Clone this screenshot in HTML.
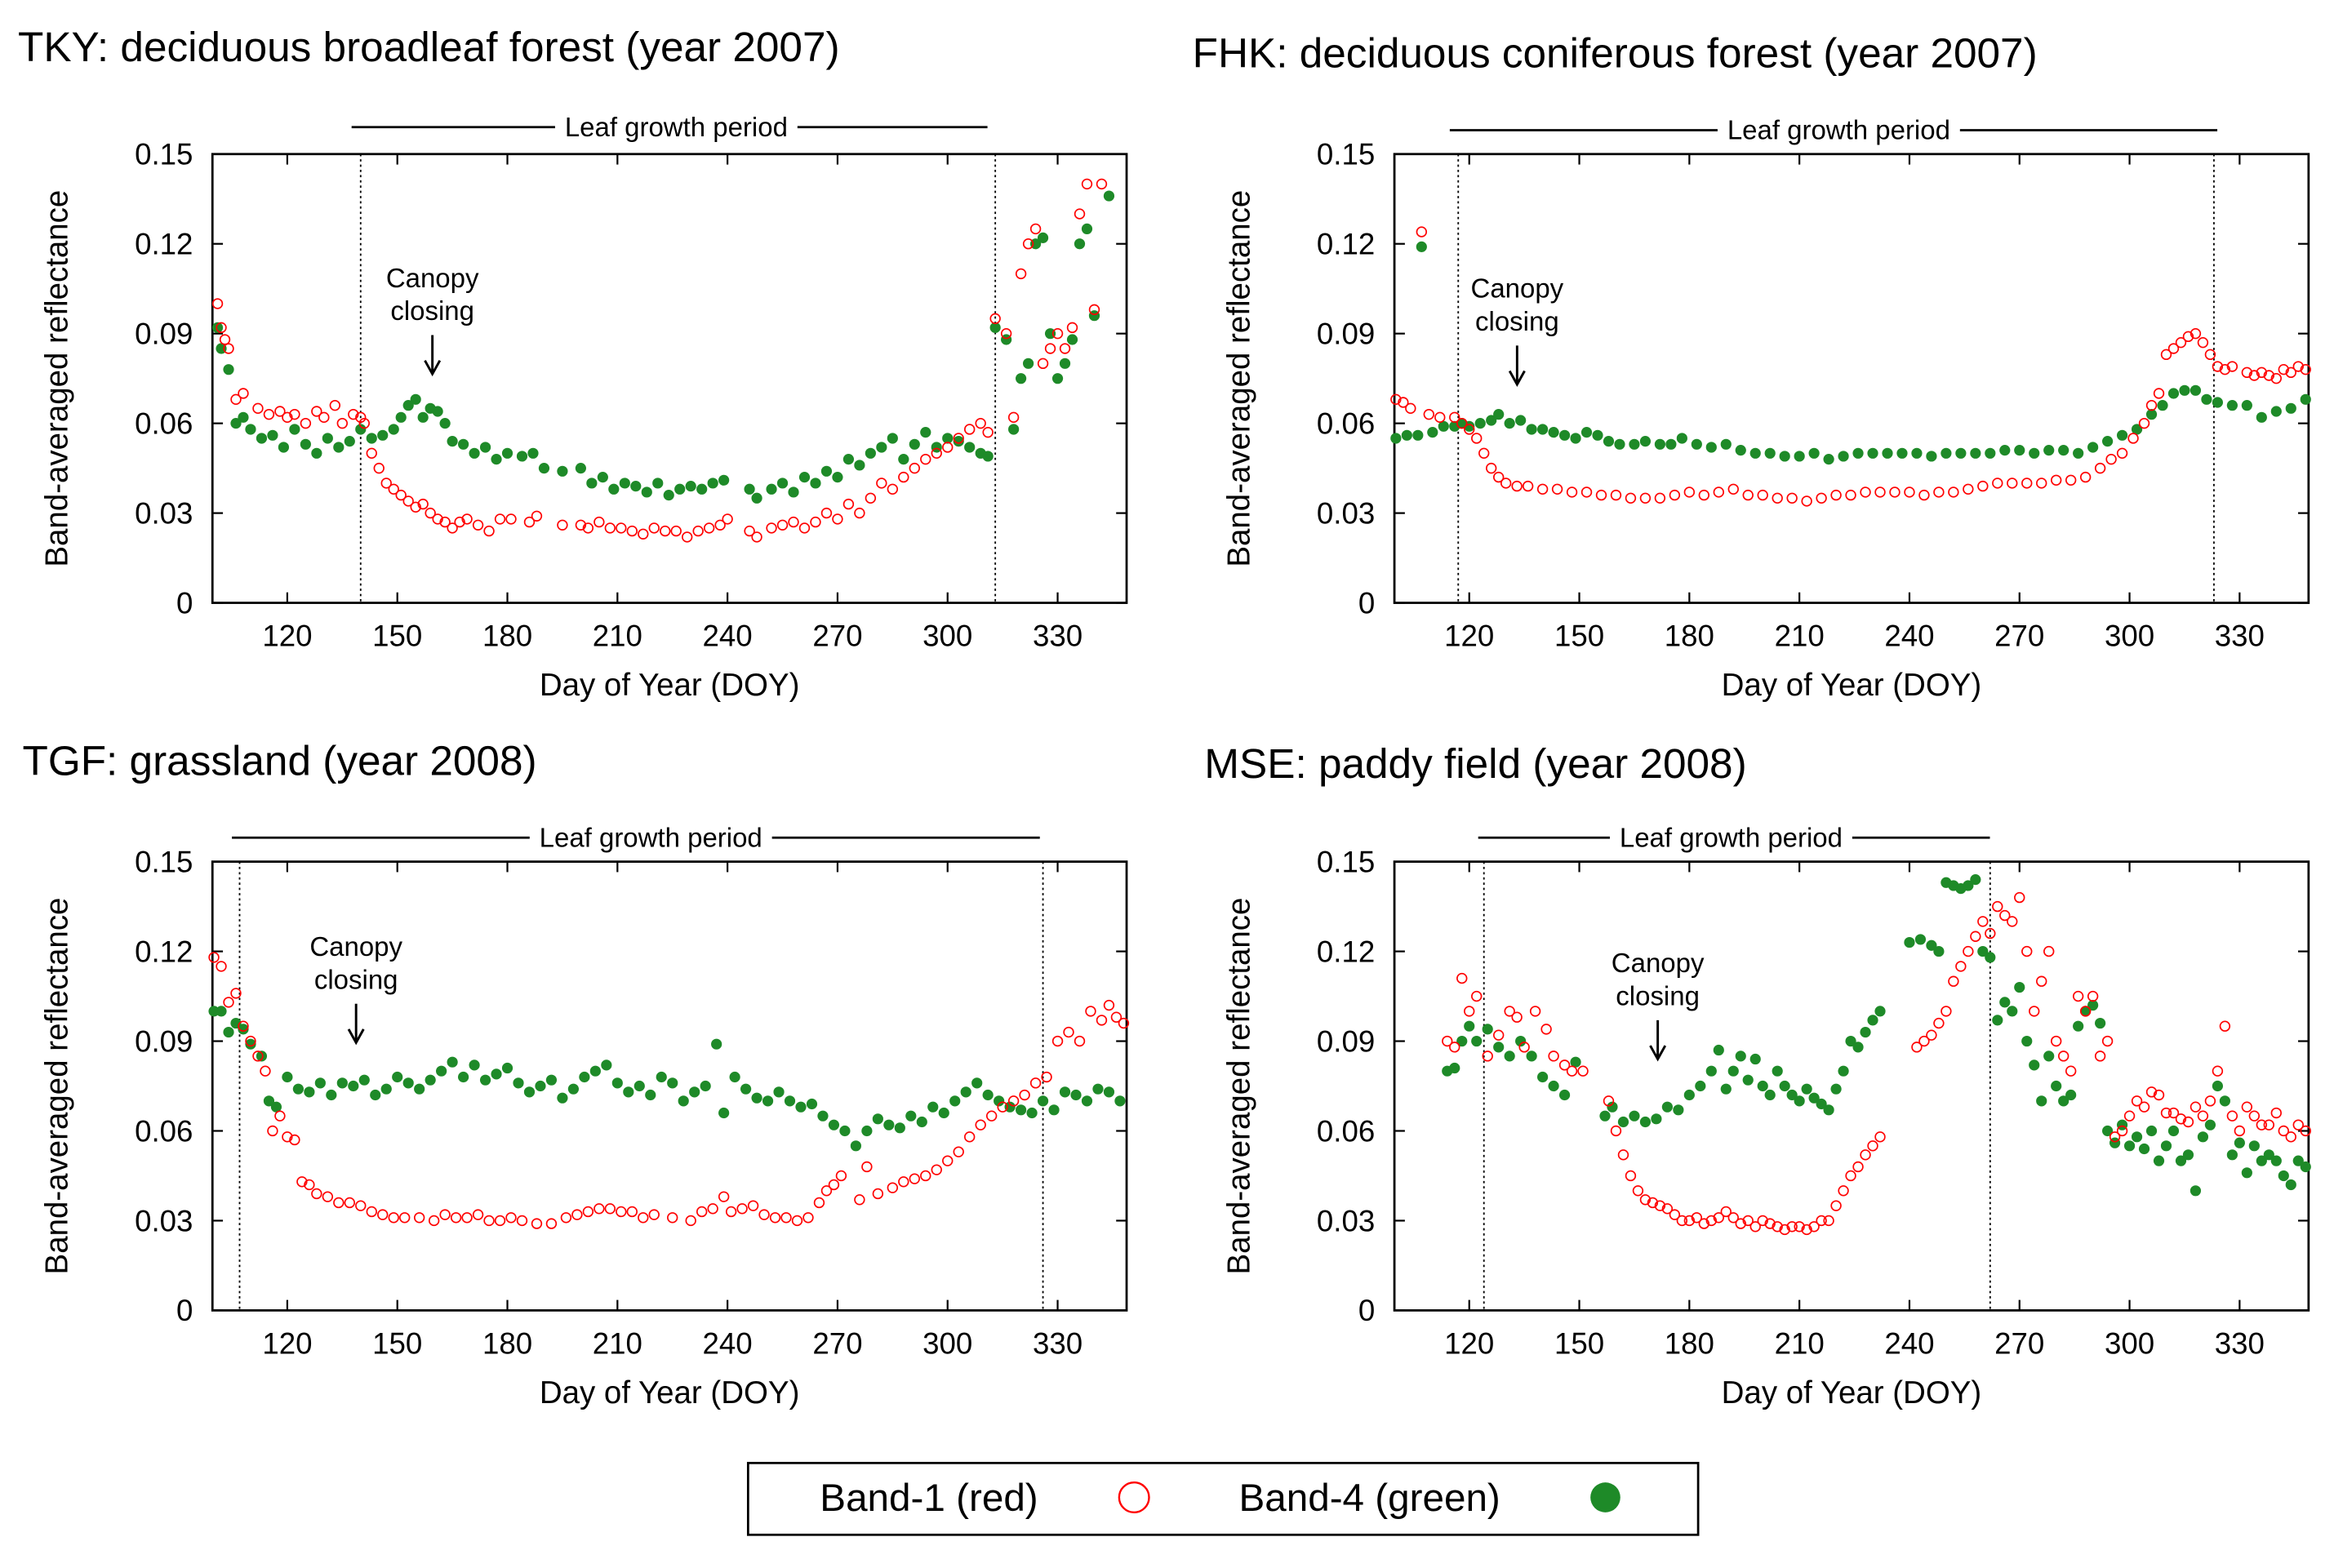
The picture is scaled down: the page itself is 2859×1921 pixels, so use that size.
<!DOCTYPE html>
<html><head><meta charset="utf-8"><style>
html,body{margin:0;padding:0;background:#fff;}
svg{display:block;font-family:"Liberation Sans",Arial,sans-serif;}
</style></head><body>
<svg id="fig" width="2859" height="1921" viewBox="0 0 1560 1048.2" preserveAspectRatio="none" xmlns="http://www.w3.org/2000/svg">
<g id="root"></g>
<g>
<rect x="500" y="978" width="635" height="48" fill="#fff" stroke="#000" stroke-width="1.5"/>
<text x="548" y="1010" font-size="26">Band-1 (red)</text>
<circle cx="758" cy="1001" r="10" fill="none" stroke="#f00" stroke-width="1.3"/>
<text x="828" y="1010" font-size="26">Band-4 (green)</text>
<circle cx="1073" cy="1001" r="10" fill="#1e8a28"/>
</g>
</svg>
<script>
// TKY
const tkyRedDoy=[101,102,103,104,106,108,112,115,118,120,122,125,128,130,133,135,138,140,141,143,145,147,149,151,153,155,157,159,161,163,165,167,169,172,175,178,181,186,188,195,200,202,205,208,211,214,217,220,223,226,229,232,235,238,240,246,248,252,255,258,261,264,267,270,273,276,279,282,285,288,291,294,297,300,303,306,309,311,313,316,318,320,322,324,326,328,330,332,334,336,338,340,342];
const tkyRedVal=[0.1,0.092,0.088,0.085,0.068,0.07,0.065,0.063,0.064,0.062,0.063,0.06,0.064,0.062,0.066,0.06,0.063,0.062,0.06,0.05,0.045,0.04,0.038,0.036,0.034,0.032,0.033,0.03,0.028,0.027,0.025,0.027,0.028,0.026,0.024,0.028,0.028,0.027,0.029,0.026,0.026,0.025,0.027,0.025,0.025,0.024,0.023,0.025,0.024,0.024,0.022,0.024,0.025,0.026,0.028,0.024,0.022,0.025,0.026,0.027,0.025,0.027,0.03,0.028,0.033,0.03,0.035,0.04,0.038,0.042,0.045,0.048,0.05,0.052,0.055,0.058,0.06,0.057,0.095,0.09,0.062,0.11,0.12,0.125,0.08,0.085,0.09,0.085,0.092,0.13,0.14,0.098,0.14];
const tkyGrnDoy=[101,102,104,106,108,110,113,116,119,122,125,128,131,134,137,140,143,146,149,151,153,155,157,159,161,163,165,168,171,174,177,180,184,187,190,195,200,203,206,209,212,215,218,221,224,227,230,233,236,239,246,248,252,255,258,261,264,267,270,273,276,279,282,285,288,291,294,297,300,303,306,309,311,313,316,318,320,322,324,326,328,330,332,334,336,338,340,344];
const tkyGrnVal=[0.092,0.085,0.078,0.06,0.062,0.058,0.055,0.056,0.052,0.058,0.053,0.05,0.055,0.052,0.054,0.058,0.055,0.056,0.058,0.062,0.066,0.068,0.062,0.065,0.064,0.06,0.054,0.053,0.05,0.052,0.048,0.05,0.049,0.05,0.045,0.044,0.045,0.04,0.042,0.038,0.04,0.039,0.037,0.04,0.036,0.038,0.039,0.038,0.04,0.041,0.038,0.035,0.038,0.04,0.037,0.042,0.04,0.044,0.042,0.048,0.046,0.05,0.052,0.055,0.048,0.053,0.057,0.052,0.055,0.054,0.052,0.05,0.049,0.092,0.088,0.058,0.075,0.08,0.12,0.122,0.09,0.075,0.08,0.088,0.12,0.125,0.096,0.136];
// FHK
const fhkRedDoy=[100,102,104,107,109,112,116,118,120,122,124,126,128,130,133,136,140,144,148,152,156,160,164,168,172,176,180,184,188,192,196,200,204,208,212,216,220,224,228,232,236,240,244,248,252,256,260,264,268,272,276,280,284,288,292,295,298,301,304,306,308,310,312,314,316,318,320,322,324,326,328,332,334,336,338,340,342,344,346,348];
const fhkRedVal=[0.068,0.067,0.065,0.124,0.063,0.062,0.062,0.06,0.058,0.055,0.05,0.045,0.042,0.04,0.039,0.039,0.038,0.038,0.037,0.037,0.036,0.036,0.035,0.035,0.035,0.036,0.037,0.036,0.037,0.038,0.036,0.036,0.035,0.035,0.034,0.035,0.036,0.036,0.037,0.037,0.037,0.037,0.036,0.037,0.037,0.038,0.039,0.04,0.04,0.04,0.04,0.041,0.041,0.042,0.045,0.048,0.05,0.055,0.06,0.066,0.07,0.083,0.085,0.087,0.089,0.09,0.087,0.083,0.079,0.078,0.079,0.077,0.076,0.077,0.076,0.075,0.078,0.077,0.079,0.078];
const fhkGrnDoy=[100,103,106,107,110,113,116,118,120,123,126,128,131,134,137,140,143,146,149,152,155,158,161,165,168,172,175,178,182,186,190,194,198,202,206,210,214,218,222,226,230,234,238,242,246,250,254,258,262,266,270,274,278,282,286,290,294,298,302,306,309,312,315,318,321,324,328,332,336,340,344,348];
const fhkGrnVal=[0.055,0.056,0.056,0.119,0.057,0.059,0.059,0.06,0.059,0.06,0.061,0.063,0.06,0.061,0.058,0.058,0.057,0.056,0.055,0.057,0.056,0.054,0.053,0.053,0.054,0.053,0.053,0.055,0.053,0.052,0.053,0.051,0.05,0.05,0.049,0.049,0.05,0.048,0.049,0.05,0.05,0.05,0.05,0.05,0.049,0.05,0.05,0.05,0.05,0.051,0.051,0.05,0.051,0.051,0.05,0.052,0.054,0.056,0.058,0.063,0.066,0.07,0.071,0.071,0.068,0.067,0.066,0.066,0.062,0.064,0.065,0.068];
// TGF
const tgfRedDoy=[100,102,104,106,108,110,112,114,116,118,120,122,124,126,128,131,134,137,140,143,146,149,152,156,160,163,166,169,172,175,178,181,184,188,192,196,199,202,205,208,211,214,217,220,225,230,233,236,239,241,244,247,250,253,256,259,262,265,267,269,271,276,278,281,285,288,291,294,297,300,303,306,309,312,315,318,321,324,327,330,333,336,339,342,344,346,348];
const tgfRedVal=[0.118,0.115,0.103,0.106,0.095,0.09,0.085,0.08,0.06,0.065,0.058,0.057,0.043,0.042,0.039,0.038,0.036,0.036,0.035,0.033,0.032,0.031,0.031,0.031,0.03,0.032,0.031,0.031,0.032,0.03,0.03,0.031,0.03,0.029,0.029,0.031,0.032,0.033,0.034,0.034,0.033,0.033,0.031,0.032,0.031,0.03,0.033,0.034,0.038,0.033,0.034,0.035,0.032,0.031,0.031,0.03,0.031,0.036,0.04,0.042,0.045,0.037,0.048,0.039,0.041,0.043,0.044,0.045,0.047,0.05,0.053,0.058,0.062,0.065,0.068,0.07,0.072,0.076,0.078,0.09,0.093,0.09,0.1,0.097,0.102,0.098,0.096];
const tgfGrnDoy=[100,102,104,106,108,110,113,115,117,120,123,126,129,132,135,138,141,144,147,150,153,156,159,162,165,168,171,174,177,180,183,186,189,192,195,198,201,204,207,210,213,216,219,222,225,228,231,234,237,239,242,245,248,251,254,257,260,263,266,269,272,275,278,281,284,287,290,293,296,299,302,305,308,311,314,317,320,323,326,329,332,335,338,341,344,347];
const tgfGrnVal=[0.1,0.1,0.093,0.096,0.094,0.089,0.085,0.07,0.068,0.078,0.074,0.073,0.076,0.072,0.076,0.075,0.077,0.072,0.074,0.078,0.076,0.074,0.077,0.08,0.083,0.078,0.082,0.077,0.079,0.081,0.076,0.073,0.075,0.077,0.071,0.074,0.078,0.08,0.082,0.076,0.073,0.075,0.072,0.078,0.076,0.07,0.073,0.075,0.089,0.066,0.078,0.074,0.071,0.07,0.073,0.07,0.068,0.069,0.065,0.062,0.06,0.055,0.06,0.064,0.062,0.061,0.065,0.063,0.068,0.066,0.07,0.073,0.076,0.072,0.07,0.068,0.067,0.066,0.07,0.067,0.073,0.072,0.07,0.074,0.073,0.07];
// MSE
const mseRedDoy=[114,116,118,120,122,125,128,131,133,135,138,141,143,146,148,151,158,160,162,164,166,168,170,172,174,176,178,180,182,184,186,188,190,192,194,196,198,200,202,204,206,208,210,212,214,216,218,220,222,224,226,228,230,232,242,244,246,248,250,252,254,256,258,260,262,264,266,268,270,272,274,276,278,280,282,284,286,288,290,292,294,296,298,300,302,304,306,308,310,312,314,316,318,320,322,324,326,328,330,332,334,336,338,340,342,344,346,348];
const mseRedVal=[0.09,0.088,0.111,0.1,0.105,0.085,0.092,0.1,0.098,0.088,0.1,0.094,0.085,0.082,0.08,0.08,0.07,0.06,0.052,0.045,0.04,0.037,0.036,0.035,0.034,0.032,0.03,0.03,0.031,0.029,0.03,0.031,0.033,0.031,0.029,0.03,0.028,0.03,0.029,0.028,0.027,0.028,0.028,0.027,0.028,0.03,0.03,0.035,0.04,0.045,0.048,0.052,0.055,0.058,0.088,0.09,0.092,0.096,0.1,0.11,0.115,0.12,0.125,0.13,0.126,0.135,0.132,0.13,0.138,0.12,0.1,0.11,0.12,0.09,0.085,0.08,0.105,0.1,0.105,0.085,0.09,0.058,0.06,0.065,0.07,0.068,0.073,0.072,0.066,0.066,0.064,0.063,0.068,0.065,0.07,0.08,0.095,0.065,0.06,0.068,0.065,0.062,0.062,0.066,0.06,0.058,0.062,0.06];
const mseGrnDoy=[114,116,118,120,122,125,128,131,134,137,140,143,146,149,157,159,162,165,168,171,174,177,180,183,186,188,190,192,194,196,198,200,202,204,206,208,210,212,214,216,218,220,222,224,226,228,230,232,240,243,246,248,250,252,254,256,258,260,262,264,266,268,270,272,274,276,278,280,282,284,286,288,290,292,294,296,298,300,302,304,306,308,310,312,314,316,318,320,322,324,326,328,330,332,334,336,338,340,342,344,346,348];
const mseGrnVal=[0.08,0.081,0.09,0.095,0.09,0.094,0.088,0.085,0.09,0.085,0.078,0.075,0.072,0.083,0.065,0.068,0.063,0.065,0.063,0.064,0.068,0.067,0.072,0.075,0.08,0.087,0.074,0.08,0.085,0.077,0.084,0.075,0.072,0.08,0.075,0.072,0.07,0.074,0.071,0.069,0.067,0.074,0.08,0.09,0.088,0.093,0.097,0.1,0.123,0.124,0.122,0.12,0.143,0.142,0.141,0.142,0.144,0.12,0.118,0.097,0.103,0.1,0.108,0.09,0.082,0.07,0.085,0.075,0.07,0.072,0.095,0.1,0.102,0.096,0.06,0.056,0.062,0.055,0.058,0.054,0.06,0.05,0.055,0.06,0.05,0.052,0.04,0.058,0.062,0.075,0.07,0.052,0.056,0.046,0.055,0.05,0.052,0.05,0.045,0.042,0.05,0.048];
const yTicks=[0,0.03,0.06,0.09,0.12,0.15];
const yTickLabels=["0","0.03","0.06","0.09","0.12","0.15"];
const xTicks=[120,150,180,210,240,270,300,330];

const NS="http://www.w3.org/2000/svg";
const root=document.getElementById('root');
function mk(tag,attrs,parent,text){const e=document.createElementNS(NS,tag);for(const k in attrs)e.setAttribute(k,attrs[k]);if(text!==undefined)e.textContent=text;parent.appendChild(e);return e;}

const panels=[
 {id:'tky',title:'TKY: deciduous broadleaf forest (year 2007)',tx:12,ty:41,x0:142,y0:103,rd:tkyRedDoy,rv:tkyRedVal,gd:tkyGrnDoy,gv:tkyGrnVal,v1:140,v2:313,lg1:235,lg2:660,lgy:85,lgt:452,cx:289,cy:186},
 {id:'fhk',title:'FHK: deciduous coniferous forest (year 2007)',tx:797,ty:45,x0:932,y0:103,rd:fhkRedDoy,rv:fhkRedVal,gd:fhkGrnDoy,gv:fhkGrnVal,v1:117,v2:323,lg1:969,lg2:1482,lgy:87,lgt:1229,cx:1014,cy:193},
 {id:'tgf',title:'TGF: grassland (year 2008)',tx:15,ty:518,x0:142,y0:576,rd:tgfRedDoy,rv:tgfRedVal,gd:tgfGrnDoy,gv:tgfGrnVal,v1:107,v2:326,lg1:155,lg2:695,lgy:560,lgt:435,cx:238,cy:633},
 {id:'mse',title:'MSE: paddy field (year 2008)',tx:805,ty:520,x0:932,y0:576,rd:mseRedDoy,rv:mseRedVal,gd:mseGrnDoy,gv:mseGrnVal,v1:124,v2:262,lg1:988,lg2:1330,lgy:560,lgt:1157,cx:1108,cy:644}
];
const W=611,H=300,D0=99.6,D1=348.8;
panels.forEach(p=>{
 const g=mk('g',{},root);
 
 
 const sx=d=>p.x0+(d-D0)/(D1-D0)*W;
 const sy=v=>p.y0+H-v/0.15*H;
 const t=mk('text',{x:p.tx,y:p.ty,'font-size':28},g,p.title);
 
 
 const lt=mk('text',{x:p.lgt,y:p.lgy+6,'font-size':18,'text-anchor':'middle'},g,'Leaf growth period');
 
 
 const tw=150;
 mk('line',{x1:p.lg1,x2:p.lgt-tw/2-6,y1:p.lgy,y2:p.lgy,stroke:'#000','stroke-width':1.5},g);
 mk('line',{x1:p.lgt+tw/2+6,x2:p.lg2,y1:p.lgy,y2:p.lgy,stroke:'#000','stroke-width':1.5},g);
 const fr=mk('rect',{x:p.x0,y:p.y0,width:W,height:H,fill:'none',stroke:'#000','stroke-width':1.5},g);
 
 
 yTicks.forEach((v,i)=>{
  const y=sy(v);
  mk('line',{x1:p.x0,x2:p.x0+7,y1:y,y2:y,stroke:'#000','stroke-width':1.2},g);
  mk('line',{x1:p.x0+W-7,x2:p.x0+W,y1:y,y2:y,stroke:'#000','stroke-width':1.2},g);
  const l=mk('text',{x:p.x0-13,y:y+7,'font-size':20,'text-anchor':'end'},g,yTickLabels[i]);
  
  
 });
 xTicks.forEach(d=>{
  const x=sx(d);
  mk('line',{x1:x,x2:x,y1:p.y0+H,y2:p.y0+H-7,stroke:'#000','stroke-width':1.2},g);
  mk('line',{x1:x,x2:x,y1:p.y0,y2:p.y0+7,stroke:'#000','stroke-width':1.2},g);
  const l=mk('text',{x:x,y:p.y0+H+29,'font-size':20,'text-anchor':'middle'},g,String(d));
  
  
 });
 const xt=mk('text',{x:p.x0+W/2,y:p.y0+H+62,'font-size':21,'text-anchor':'middle'},g,'Day of Year (DOY)');
 
 
 const yx=p.x0-97,yy=p.y0+H/2;
 const yt=mk('text',{x:yx,y:yy,'font-size':21,'text-anchor':'middle',transform:`rotate(-90 ${yx} ${yy})`},g,'Band-averaged reflectance');
 
 
 [p.v1,p.v2].forEach(d=>{
  const vl=mk('line',{x1:sx(d),x2:sx(d),y1:p.y0,y2:p.y0+H,stroke:'#000','stroke-width':1,'stroke-dasharray':'1.5,2'},g);
  
  
 });
 const c1=mk('text',{x:p.cx,y:p.cy+6,'font-size':18,'text-anchor':'middle'},g,'Canopy');
 
 
 mk('text',{x:p.cx,y:p.cy+28,'font-size':18,'text-anchor':'middle'},g,'closing');
 mk('line',{x1:p.cx,x2:p.cx,y1:p.cy+38,y2:p.cy+63,stroke:'#000','stroke-width':1.6},g);
 mk('path',{d:`M${p.cx-5} ${p.cy+55} L${p.cx} ${p.cy+64} L${p.cx+5} ${p.cy+55}`,fill:'none',stroke:'#000','stroke-width':1.6},g);
 p.gd.forEach((d,i)=>{
  const c=mk('circle',{cx:sx(d),cy:sy(p.gv[i]),r:3.6,fill:'#1e8a28'},g);
  
  
 });
 p.rd.forEach((d,i)=>{
  const c=mk('circle',{cx:sx(d),cy:sy(p.rv[i]),r:3.2,fill:'none',stroke:'#f00','stroke-width':0.9},g);
  
  
 });
});
</script>
</body></html>
